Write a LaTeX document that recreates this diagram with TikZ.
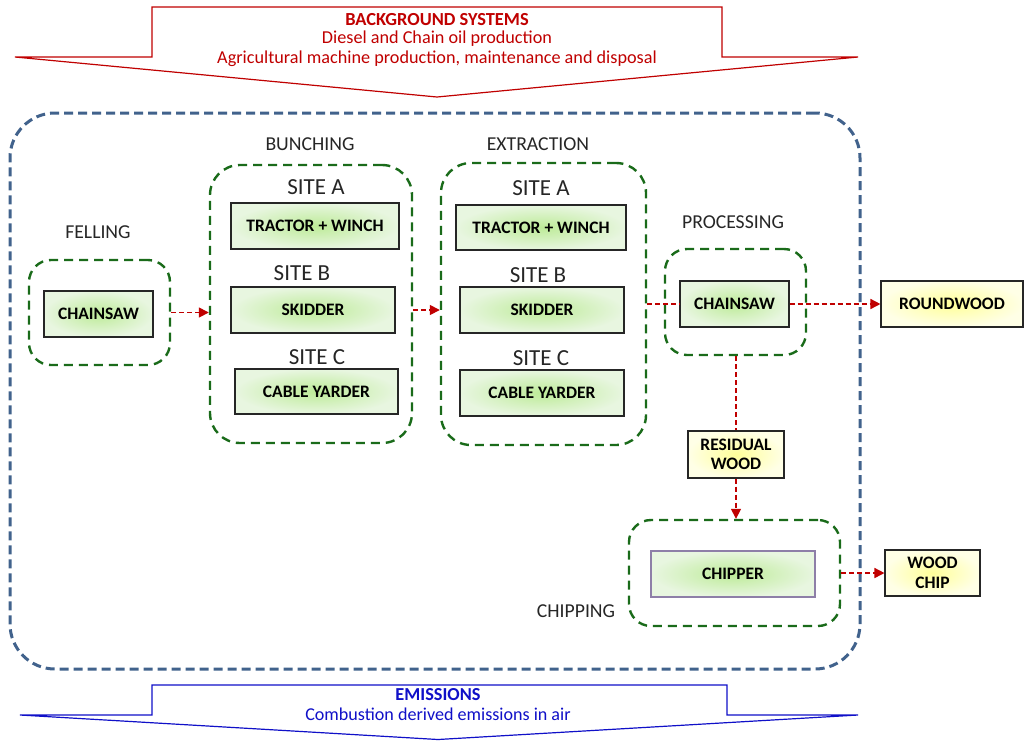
\documentclass[tikz,border=0pt]{standalone}
\usepackage{fontspec}
\setmainfont{Carlito}
\usetikzlibrary{arrows.meta,calc}
\definecolor{bgred}{HTML}{C00000}
\definecolor{emblue}{HTML}{1010C8}
\definecolor{frameblue}{HTML}{41628C}
\definecolor{grpgreen}{HTML}{1A6B1A}
\definecolor{arrred}{HTML}{C00000}
\definecolor{gin}{HTML}{BDEB98}
\definecolor{gout}{HTML}{E8F6E0}
\definecolor{yin}{HTML}{FFFF99}
\definecolor{yout}{HTML}{FFFFE6}
\definecolor{chipborder}{HTML}{8E7FA8}
\tikzset{
  grp/.style={draw=grpgreen, line width=2.4pt, dash pattern=on 9pt off 6pt, rounded corners=22pt, minimum width=#1, inner sep=0pt},
  gbox/.style={draw=black!85, line width=1.1pt, shading=radial, inner color=gin, outer color=gout, inner sep=0pt, font=\fontsize{17.5}{19.5}\selectfont\bfseries, align=center},
  ybox/.style={draw=black!85, line width=1.1pt, shading=radial, inner color=yin, outer color=yout, inner sep=0pt, font=\fontsize{17.5}{19.5}\selectfont\bfseries, align=center},
  stage/.style={font=\fontsize{19.7}{21}\selectfont, text=black!85},
  site/.style={font=\fontsize{23}{24}\selectfont, text=black!85},
  flow/.style={draw=arrred, line width=1.5pt, dash pattern=on 5pt off 3pt},
  flowarr/.style={flow, -{Triangle[length=10pt,width=10pt]}},
}
\begin{document}
\begin{tikzpicture}[x=1pt,y=-1pt]
\useasboundingbox (0,0) rectangle (1024,740);
% background systems arrow
\draw[bgred, line width=1.2pt, fill=white] (152,7) -- (722,7) -- (722,57) -- (858,57) -- (437,97) -- (15,57) -- (152,57) -- cycle;
\node[text=bgred, font=\fontsize{18.4}{20}\selectfont\bfseries] (bgt) at (437,20) {BACKGROUND SYSTEMS};
\node[text=bgred, font=\fontsize{18.2}{20}\selectfont] (bg1) at (437,39) {Diesel and Chain oil production};
\node[text=bgred, font=\fontsize{18.2}{20}\selectfont] (bg2) at (437,58.5) {Agricultural machine production, maintenance and disposal};
% emissions arrow
\draw[emblue, line width=1.2pt, fill=white] (152,685) -- (727,685) -- (727,715) -- (858,715) -- (438,739.5) -- (20,715) -- (152,715) -- cycle;
\node[text=emblue, font=\fontsize{18.3}{20}\selectfont\bfseries] (emt) at (438,695) {EMISSIONS};
\node[text=emblue, font=\fontsize{18.1}{20}\selectfont] (em1) at (438,714) {Combustion derived emissions in air};
% system frame
\node[draw=frameblue, line width=3pt, dash pattern=on 9pt off 5pt, rounded corners=45pt, minimum width=850pt, minimum height=556pt, inner sep=0pt] (frame) at (435,391) {};
% groups
\node[grp=141pt, minimum height=105pt] (fg) at (99.5,312.5) {};
\node[grp=202pt, minimum height=278pt, rounded corners=30pt] (bg) at (311,304) {};
\node[grp=205pt, minimum height=282pt, rounded corners=30pt] (eg) at (543.5,304) {};
\node[grp=141pt, minimum height=106pt] (pg) at (735.5,302) {};
\node[grp=211pt, minimum height=106pt] (chg) at (734.5,573) {};
% stage labels
\node[stage] (lfell) at (98,232) {FELLING};
\node[stage] (lbunch) at (310,144) {BUNCHING};
\node[stage] (lextr) at (538,144) {EXTRACTION};
\node[stage] (lproc) at (733,222) {PROCESSING};
\node[stage] (lchip) at (576,611) {CHIPPING};
\node[site] (bsa) at (316,187) {SITE A};
\node[site] (bsb) at (302,273) {SITE B};
\node[site] (bsc) at (317,357) {SITE C};
\node[site] (esa) at (541,188) {SITE A};
\node[site] (esb) at (538,275) {SITE B};
\node[site] (esc) at (541,358) {SITE C};
% machine boxes
\node[gbox, minimum width=109pt, minimum height=46pt] (fchain) at (98.5,314) {CHAINSAW};
\node[gbox, minimum width=168pt, minimum height=46pt] (b1) at (315,226) {TRACTOR + WINCH};
\node[gbox, minimum width=164pt, minimum height=46pt] (b2) at (313,310) {SKIDDER};
\node[gbox, minimum width=163pt, minimum height=45pt] (b3) at (316.5,391.5) {CABLE YARDER};
\node[gbox, minimum width=170pt, minimum height=45pt] (e1) at (541,227.5) {TRACTOR + WINCH};
\node[gbox, minimum width=164pt, minimum height=46pt] (e2) at (542,310) {SKIDDER};
\node[gbox, minimum width=164pt, minimum height=46pt] (e3) at (542,393) {CABLE YARDER};
\node[gbox, minimum width=109pt, minimum height=46pt] (pchain) at (734.5,304) {CHAINSAW};
\node[gbox, draw=chipborder, minimum width=164pt, minimum height=46pt] (chip) at (733,574) {CHIPPER};
% products
\node[ybox, minimum width=142pt, minimum height=46pt] (round) at (952,304) {ROUNDWOOD};
\node[ybox, minimum width=96pt, minimum height=47pt] (resid) at (736,454.5) {RESIDUAL\\WOOD};
\node[ybox, minimum width=95pt, minimum height=46pt] (wchip) at (932.5,573) {WOOD\\CHIP};
% flows
\draw[flowarr] (fg.east) -- (fg.east -| bg.west);
\draw[flowarr] (b2.east -| bg.east) -- (b2.east -| eg.west);
\draw[flow] (pchain.west -| eg.east) -- (pchain.west);
\draw[flowarr] (pchain.east) -- (round.west);
\draw[flow] (resid.north |- pg.south) -- (resid.north);
\draw[flowarr] (resid.south) -- (resid.south |- chg.north);
\draw[flowarr] (chg.east) -- (wchip.west);
\end{tikzpicture}
\end{document}
